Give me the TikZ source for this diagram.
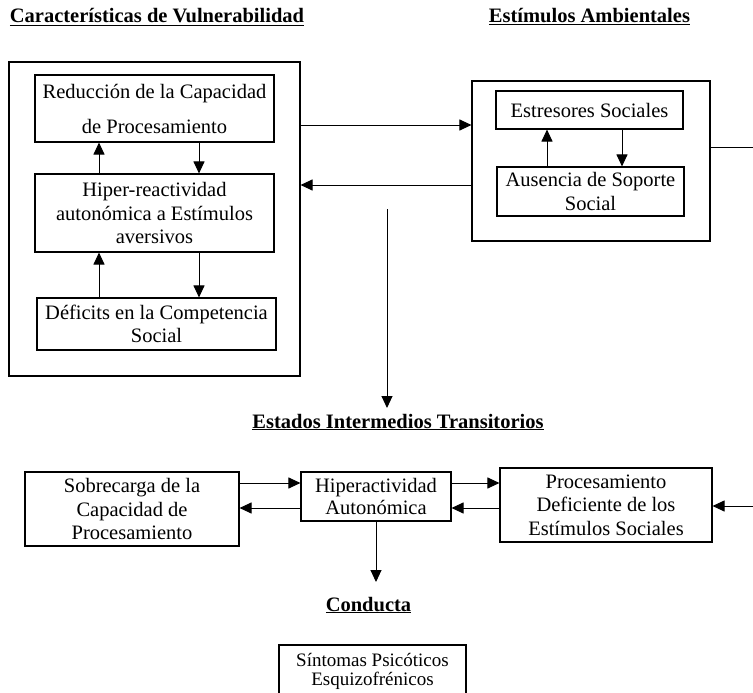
\documentclass[tikz,border=0pt]{standalone}
\usepackage{fontspec}
\setmainfont{Liberation Serif}
\usepackage{tikz}
\usetikzlibrary{calc}
\usetikzlibrary{positioning}
\usetikzlibrary{arrows.meta}
\tikzset{
	mybox/.style={draw=black, line width=1.1pt, align=center, inner sep=0pt, font=\fontsize{20.5}{23.5}\selectfont},
	mytitle/.style={anchor=base, font=\fontsize{20.5}{24}\selectfont\bfseries},
	myarrow/.style={-{Triangle[length=12pt, width=11pt]}, line width=1pt},
}

\begin{document}
\begin{tikzpicture}[x=1pt, y=-1pt]
	\useasboundingbox (0,0) rectangle (753,693);
	\clip (0,0) rectangle (753,693);
	
	\node[mytitle] (tvul) at (157,23) {\underline{Características de Vulnerabilidad}};
	\node[mytitle] (tamb) at (589.5,23) {\underline{Estímulos Ambientales}};
	\node[mytitle] (test) at (398,428) {\underline{Estados Intermedios Transitorios}};
	\node[mytitle] (tcon) at (368.5,611) {\underline{Conducta}};
	
	\node[mybox, minimum width=291pt, minimum height=314pt] (vulbox) at (154.5,219) {};
	\node[mybox, minimum width=239pt, minimum height=67pt, font=\fontsize{20.5}{35}\selectfont] (reduc) at (154.5,108.5) {Reducción de la Capacidad\\de Procesamiento};
	\node[mybox, minimum width=239pt, minimum height=78pt] (hiper) at (154.5,213) {Hiper-reactividad\\autonómica a Estímulos\\aversivos};
	\node[mybox, minimum width=239pt, minimum height=52pt] (defic) at (156.5,324) {Déficits en la Competencia\\Social};
	
	\node[mybox, minimum width=238pt, minimum height=160pt] (ambbox) at (591,161) {};
	\node[mybox, minimum width=187pt, minimum height=38pt] (estres) at (589.5,110) {Estresores Sociales};
	\node[mybox, minimum width=187pt, minimum height=49pt] (ausen) at (590.5,191.5) {Ausencia de Soporte\\Social};
	
	\node[mybox, minimum width=214pt, minimum height=74pt] (sobre) at (132,509) {Sobrecarga de la\\Capacidad de\\Procesamiento};
	\node[mybox, minimum width=150pt, minimum height=49pt, font=\fontsize{20.5}{22}\selectfont] (hipera) at (376,496.5) {Hiperactividad\\Autonómica};
	\node[mybox, minimum width=212pt, minimum height=74pt] (proces) at (606,505) {Procesamiento\\Deficiente de los\\Estímulos Sociales};
	
	\node[mybox, minimum width=187pt, minimum height=52pt, font=\fontsize{19}{19}\selectfont] (sintom) at (372.5,671) {Síntomas Psicóticos\\Esquizofrénicos};
	
	\coordinate (xa) at (99,0);
	\coordinate (xb) at (199,0);
	\coordinate (xc) at (547,0);
	\coordinate (xd) at (622,0);
	\coordinate (ya) at (0,125);
	\coordinate (yb) at (0,185);
	\coordinate (yd) at (0,483);
	\coordinate (ye) at (0,508);
	\coordinate (outR) at (753,147);
	\coordinate (inR) at (753,506);
	\coordinate (vtop) at (387,209);
	\coordinate (vbot) at (387,408);
	\coordinate (cond) at (377,582);
	
	\draw[myarrow] (hiper.north -| xa) -- (reduc.south -| xa);
	\draw[myarrow] (reduc.south -| xb) -- (hiper.north -| xb);
	\draw[myarrow] (defic.north -| xa) -- (hiper.south -| xa);
	\draw[myarrow] (hiper.south -| xb) -- (defic.north -| xb);
	\draw[myarrow] (ausen.north -| xc) -- (estres.south -| xc);
	\draw[myarrow] (estres.south -| xd) -- (ausen.north -| xd);
	
	\draw[myarrow] (vulbox.east |- ya) -- (ambbox.west |- ya);
	\draw[myarrow] (ambbox.west |- yb) -- (vulbox.east |- yb);
	\draw[line width=1pt] (ambbox.east |- outR) -- (outR);
	\draw[myarrow] (vtop) -- (vbot);
	
	\draw[myarrow] (sobre.east |- yd) -- (hipera.west |- yd);
	\draw[myarrow] (hipera.west |- ye) -- (sobre.east |- ye);
	\draw[myarrow] (hipera.east |- yd) -- (proces.west |- yd);
	\draw[myarrow] (proces.west |- ye) -- (hipera.east |- ye);
	\draw[myarrow] (inR) -- (proces.east |- inR);
	\draw[myarrow] (hipera.south) -- (hipera.south |- cond);
	
\end{tikzpicture}
\end{document}
